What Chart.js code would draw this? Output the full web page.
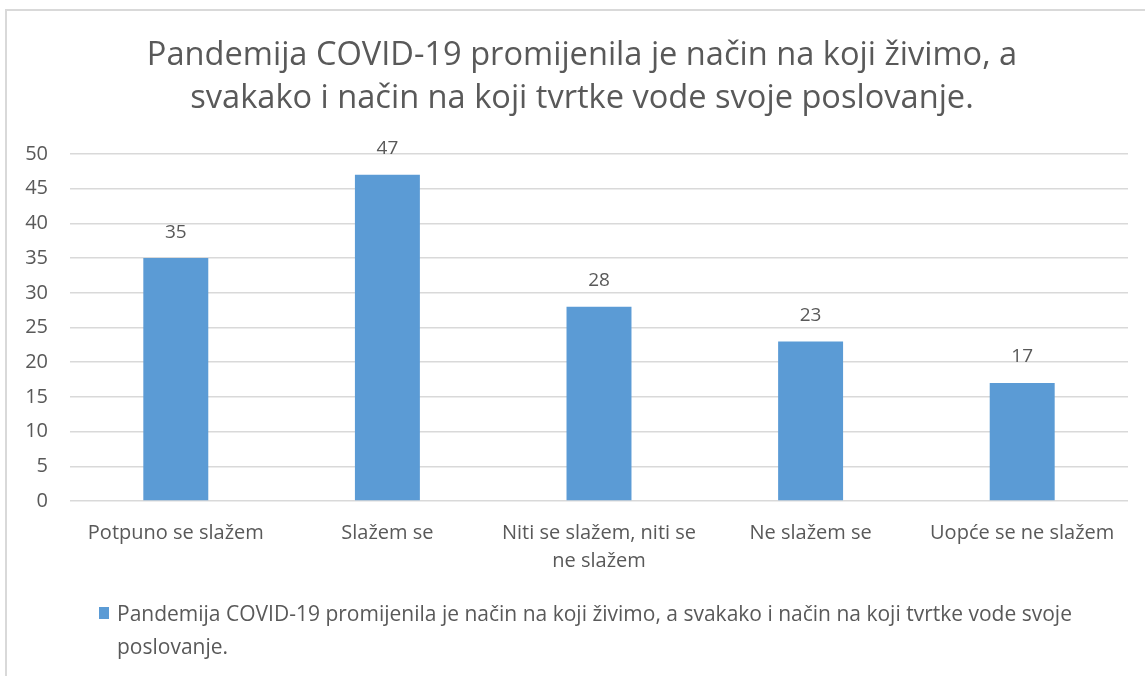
<!DOCTYPE html>
<html lang="hr">
<head>
    <meta charset="UTF-8">
    <title>Pandemija COVID-19</title>
    <script src="https://cdn.jsdelivr.net/npm/chart.js"></script>
    <style>
        html, body {
            margin: 0;
            padding: 0;
            width: 1145px;
            height: 676px;
            overflow: hidden;
            background: #ffffff;
        }

        .chart-frame {
            position: absolute;
            left: 5px;
            top: 9px;
            width: 1150px;
            height: 670px;
            border: 2px solid #d9d9d9;
        }
    </style>
</head>
<body>
    <div class="chart-frame">
        <canvas id="surveyChart" width="1150" height="670"></canvas>
    </div>

    <script>
        const chartTitle = ['Pandemija COVID-19 promijenila je način na koji živimo, a',
                            'svakako i način na koji tvrtke vode svoje poslovanje.'];
        const categories = ['Potpuno se slažem', 'Slažem se', ['Niti se slažem, niti se', 'ne slažem'],
                            'Ne slažem se', 'Uopće se ne slažem'];
        const answers = [35, 47, 28, 23, 17];
        const seriesName = 'Pandemija COVID-19 promijenila je način na koji živimo, a svakako i način na koji tvrtke vode svoje poslovanje.';
        const legendLines = ['Pandemija COVID-19 promijenila je način na koji živimo, a svakako i način na koji tvrtke vode svoje',
                             'poslovanje.'];

        const textColor = '#595959';
        const barColor = '#5b9bd5';
        const fontFamily = '"Open Sans", "Noto Sans", sans-serif';

        // title centred on the whole frame (not on the plot area), as in the original
        const frameTitle = {
            id: 'frameTitle',
            afterDraw(chart) {
                const ctx = chart.ctx;
                ctx.save();
                ctx.font = '32.6px ' + fontFamily;
                ctx.fillStyle = textColor;
                ctx.textAlign = 'center';
                ctx.textBaseline = 'middle';
                chartTitle.forEach((line, i) => {
                    ctx.fillText(line, chart.width / 2, 45 + i * 43);
                });
                ctx.restore();
            }
        };

        // value labels above each bar
        const valueLabels = {
            id: 'valueLabels',
            afterDatasetsDraw(chart) {
                const ctx = chart.ctx;
                const meta = chart.getDatasetMeta(0);
                ctx.save();
                ctx.font = '19px ' + fontFamily;
                ctx.fillStyle = textColor;
                ctx.textAlign = 'center';
                ctx.textBaseline = 'middle';
                meta.data.forEach((bar, i) => {
                    ctx.fillText(chart.data.datasets[0].data[i], bar.x, bar.y - 26);
                });
                ctx.restore();
            }
        };

        // legend that wraps onto two lines, like the original
        const wrappedLegend = {
            id: 'wrappedLegend',
            afterDraw(chart) {
                const ctx = chart.ctx;
                ctx.save();
                ctx.fillStyle = barColor;
                ctx.fillRect(92, 596, 10, 12);
                ctx.font = '21px ' + fontFamily;
                ctx.fillStyle = textColor;
                ctx.textAlign = 'left';
                ctx.textBaseline = 'middle';
                legendLines.forEach((line, i) => {
                    ctx.fillText(line, 110, 604 + i * 33);
                });
                ctx.restore();
            }
        };

        new Chart(document.getElementById('surveyChart'), {
            type: 'bar',
            data: {
                labels: categories,
                datasets: [{
                    label: seriesName,
                    data: answers,
                    backgroundColor: barColor,
                    barPercentage: 0.307,
                    categoryPercentage: 1
                }]
            },
            options: {
                responsive: false,
                animation: false,
                layout: {
                    padding: { left: 0, right: 29, top: 143, bottom: 0 }
                },
                plugins: {
                    legend: { display: false },
                    tooltip: { enabled: false },
                    title: { display: false }
                },
                scales: {
                    x: {
                        grid: { display: false },
                        border: { display: false },
                        ticks: {
                            color: textColor,
                            padding: 10,
                            maxRotation: 0,
                            autoSkip: false,
                            font: { family: fontFamily, size: 20, lineHeight: 1.4 }
                        },
                        afterFit(scale) { scale.height = 180; }
                    },
                    y: {
                        min: 0,
                        max: 50,
                        border: { display: false },
                        grid: { color: '#d9d9d9', lineWidth: 1.5, drawTicks: false },
                        ticks: {
                            stepSize: 5,
                            color: textColor,
                            padding: 22,
                            font: { family: fontFamily, size: 20 }
                        },
                        afterFit(scale) { scale.width = 63; }
                    }
                }
            },
            plugins: [frameTitle, valueLabels, wrappedLegend]
        });
    </script>
</body>
</html>
